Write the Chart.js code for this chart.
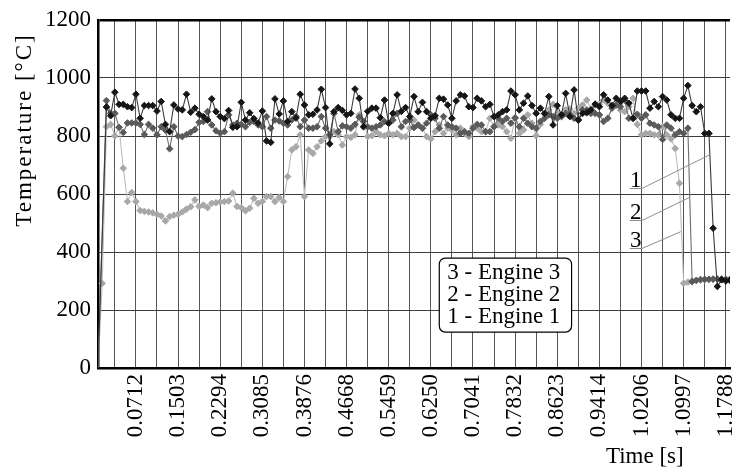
<!DOCTYPE html>
<html>
<head>
<meta charset="utf-8">
<script src="https://cdn.jsdelivr.net/npm/chart.js@4.4.1/dist/chart.umd.min.js"></script>
<style>
  html, body { margin: 0; padding: 0; background: #fff; overflow: hidden; }
  canvas { display: block; }
</style>
</head>
<body>
<canvas id="chart" width="735" height="473"></canvas>
<script>
// time labels, one for every 10th sample (sample 9, 19, 29, ...)
const xTickLabels = ['0.0712', '0.1503', '0.2294', '0.3085', '0.3876', '0.4668', '0.5459',
  '0.6250', '0.7041', '0.7832', '0.8623', '0.9414', '1.0206', '1.0997', '1.1788'];

const engineNames = ['Engine 1', 'Engine 2', 'Engine 3'];

// temperature [°C] per sample
const engine1 = [
  0, null, 900, 870, 951, 909, 909, 901, 898, 944,
  861, 905, 905, 905, 886, 919, 840, 815, 907, 893,
  890, 944, 882, 896, 875, 867, 855, 928, 884, 867,
  860, 888, 830, 832, 916, 855, 880, 860, 845, 886,
  783, 778, 928, 876, 921, 850, 884, 862, 944, 907,
  873, 875, 890, 961, 898, 773, 884, 898, 888, 873,
  878, 962, 930, 832, 885, 896, 896, 863, 924, 844,
  878, 942, 885, 898, 867, 936, 884, 916, 884, 861,
  870, 930, 927, 907, 861, 921, 942, 938, 901, 898,
  930, 921, 901, 909, 867, 873, 884, 890, 955, 942,
  890, 913, 938, 905, 878, 896, 878, 936, 838, 905,
  873, 947, 867, 959, 855, 878, 880, 890, 910, 901,
  942, 924, 905, 930, 920, 930, 913, 861, 955, 955,
  955, 896, 919, 901, 936, 924, 873, 861, 861, 930,
  974, 905, 884, 901, 809, 809, 482, 281, 304, 300,
  302
];

const engine2 = [
  0, null, 922, 878, 878, 830, 812, 845, 845, 845,
  840, 805, 840, 827, 804, 832, 820, 756, 832, 800,
  798, 805, 813, 822, 847, 850, 884, 838, 818, 810,
  815, 873, 838, 844, 840, 832, 847, 850, 838, 832,
  867, 827, 855, 852, 844, 838, 855, 867, 832, 855,
  827, 827, 832, 867, 827, 804, 878, 815, 835, 832,
  827, 840, 865, 850, 832, 827, 832, 838, 850, 844,
  855, 878, 832, 850, 855, 829, 838, 827, 844, 873,
  861, 827, 867, 838, 832, 827, 809, 815, 809, 827,
  840, 838, 815, 815, 832, 861, 850, 861, 844, 863,
  832, 861, 844, 832, 827, 850, 861, 873, 867, 861,
  867, 878, 873, 861, 855, 890, 890, 878, 878, 873,
  850, 861, 896, 907, 901, 924, 861, 861, 875, 861,
  873, 844, 838, 832, 788, 838, 827, 804, 815, 809,
  827, 298, 302, 305, 306, 306, 307, 307, 307, 306,
  306
];

const engine3 = [
  0, 292, 832, 840, 800, 830, 689, 574, 605, 574,
  543, 540, 538, 535, 530, 524, 507, 522, 527, 530,
  538, 548, 556, 580, 557, 562, 553, 568, 570, 572,
  574, 576, 603, 557, 553, 542, 551, 585, 568, 574,
  591, 591, 574, 588, 574, 660, 752, 763, 804, 591,
  752, 740, 763, 783, 798, 798, 815, 804, 769, 798,
  795, 804, 873, 852, 798, 801, 815, 804, 801, 809,
  804, 809, 798, 798, 827, 855, 838, 827, 798, 790,
  815, 838, 809, 827, 821, 804, 827, 809, 798, 832,
  827, 815, 815, 861, 832, 838, 832, 815, 792, 861,
  809, 821, 873, 844, 801, 840, 875, 890, 909, 878,
  867, 890, 893, 878, 896, 907, 924, 893, 907, 909,
  924, 913, 901, 907, 890, 884, 901, 930, 840, 804,
  809, 809, 804, 804, 832, 804, 790, 757, 637, 292,
  296, 300, 302, 303, 304, 305, 305, 306, 306, 306,
  305
];

// sample numbers used as x; the visible window stops at sample 150 (figure is cropped)
const samples = engine1.map((_, i) => i);
const X_MAX = 150;

const FONT_FAMILY = "'Liberation Serif', 'Times New Roman', serif";
const FONT_SIZE = 23;
const fontStr = `${FONT_SIZE}px ${FONT_FAMILY}`;

// numbered callouts pointing at the drop of each engine (x in samples, y in °C)
const callouts = [
  { text: '1', level: 620, target: [145.0, 734] },
  { text: '2', level: 510, target: [140.5, 589] },
  { text: '3', level: 415, target: [138.3, 470] },
];

const seriesStyle = (line, point) => ({
  borderColor: line,
  borderWidth: 1.1,
  pointBackgroundColor: point,
  pointBorderColor: point,
  pointBorderWidth: 1,
  pointStyle: 'rectRot',
  pointRadius: ctx => (ctx.dataIndex === 0 ? 0 : 3.3),
  tension: 0,
  fill: false,
  spanGaps: true,
});

const decorations = {
  id: 'decorations',
  afterDatasetsDraw(chart) {
    const { ctx, scales: { x, y } } = chart;
    ctx.save();
    ctx.font = fontStr;

    // callouts: underlined number + leader line
    const ux0 = x.getPixelForValue(126.2);
    const ux1 = x.getPixelForValue(129.1);
    callouts.forEach(c => {
      const uy = Math.round(y.getPixelForValue(c.level)) + 0.5;
      ctx.strokeStyle = '#8c8c8c';
      ctx.lineWidth = 1;
      ctx.beginPath();
      ctx.moveTo(ux0, uy);
      ctx.lineTo(ux1, uy);
      ctx.lineTo(x.getPixelForValue(c.target[0]), y.getPixelForValue(c.target[1]));
      ctx.stroke();
      ctx.fillStyle = '#000';
      ctx.textAlign = 'center';
      ctx.textBaseline = 'alphabetic';
      ctx.fillText(c.text, (ux0 + ux1) / 2, uy - 2);
    });

    // legend box
    const bx0 = x.getPixelForValue(81.0);
    const bx1 = x.getPixelForValue(112.4);
    const by0 = y.getPixelForValue(379);
    const by1 = y.getPixelForValue(124);
    ctx.beginPath();
    ctx.roundRect(bx0, by0, bx1 - bx0, by1 - by0, 6);
    ctx.fillStyle = '#fff';
    ctx.fill();
    ctx.strokeStyle = '#000';
    ctx.lineWidth = 1.2;
    ctx.stroke();
    ctx.fillStyle = '#000';
    ctx.textAlign = 'left';
    const rows = chart.data.datasets.map((ds, i) => `${i + 1} - ${ds.label}`).reverse();
    rows.forEach((t, k) => ctx.fillText(t, bx0 + 8, by0 + 20.5 + 22 * k));
    ctx.restore();
  },
  afterDraw(chart) {
    const { ctx, scales: { x } } = chart;
    ctx.save();
    ctx.font = fontStr;
    ctx.fillStyle = '#000';
    ctx.textBaseline = 'alphabetic';
    ctx.textAlign = 'right';
    ctx.fillText('Time [s]', x.getPixelForValue(139), 463);
    ctx.translate(31, 130);
    ctx.rotate(-Math.PI / 2);
    ctx.textAlign = 'center';
    ctx.letterSpacing = '2px';
    ctx.fillText('Temperature [°C]', 0, 0);
    ctx.restore();
  }
};

new Chart(document.getElementById('chart'), {
  type: 'line',
  data: {
    labels: samples,
    datasets: [
      { label: engineNames[0], data: engine1, ...seriesStyle('#3a3a3a', '#161616') },
      { label: engineNames[1], data: engine2, ...seriesStyle('#6e6e6e', '#5a5a5a') },
      { label: engineNames[2], data: engine3, ...seriesStyle('#bdbdbd', '#a8a8a8') },
    ]
  },
  options: {
    responsive: false,
    animation: false,
    events: [],
    layout: { padding: { top: 20, right: 0, left: 0, bottom: 0 } },
    plugins: { legend: { display: false }, tooltip: { enabled: false } },
    scales: {
      x: {
        type: 'linear',
        min: 0,
        max: X_MAX,
        grid: { drawTicks: false, color: '#555', lineWidth: 1 },
        border: { color: '#000', width: 2.5 },
        ticks: {
          autoSkip: false,
          minRotation: 90,
          maxRotation: 90,
          padding: 6,
          color: '#000',
          font: { family: FONT_FAMILY, size: FONT_SIZE },
          callback: v => (v % 10 === 9 ? (xTickLabels[(v - 9) / 10] || '') : ''),
        },
        // grid every 5 samples, labels every 10
        afterBuildTicks: s => {
          s.ticks = samples.filter(i => i % 5 === 4).map(v => ({ value: v }));
        },
        afterFit: s => {
          s.height = 105;
          s.paddingLeft = 0;
          s.paddingRight = 0;
        },
      },
      y: {
        min: 0,
        max: 1200,
        grid: {
          drawTicks: false,
          color: ctx => (ctx.tick.value === 1200 ? '#000' : ctx.tick.value === 0 ? 'rgba(0,0,0,0)' : '#3c3c3c'),
          lineWidth: ctx => (ctx.tick.value === 1200 ? 2.5 : 1),
        },
        border: { color: '#000', width: 2.5 },
        ticks: {
          stepSize: 200,
          padding: 7,
          color: '#000',
          font: { family: FONT_FAMILY, size: FONT_SIZE },
          callback: v => String(v),
        },
        afterFit: s => {
          s.width = 98;
          s.paddingTop = 0;
          s.paddingBottom = 0;
        },
      }
    }
  },
  plugins: [decorations]
});
</script>
</body>
</html>
